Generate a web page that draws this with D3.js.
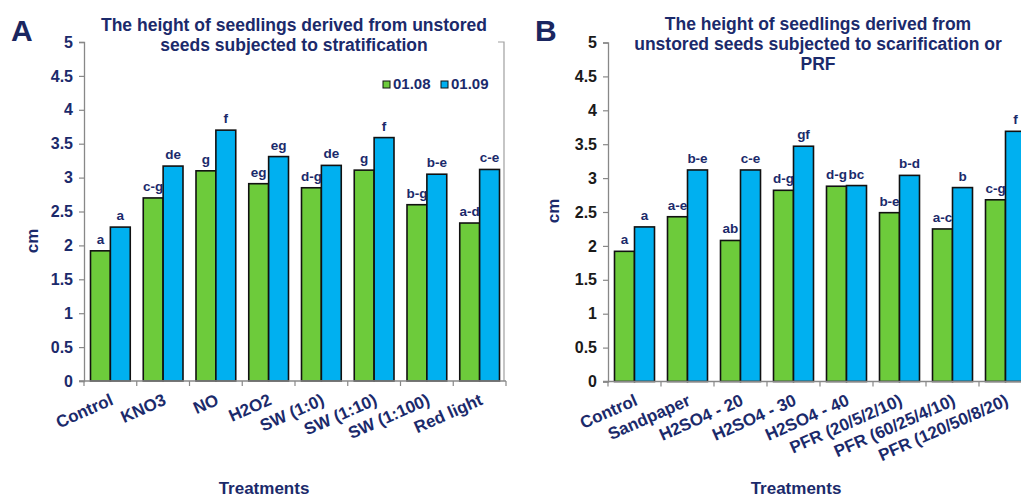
<!DOCTYPE html>
<html>
<head>
<meta charset="utf-8">
<script src="https://cdn.jsdelivr.net/npm/d3@7"></script>
<style>
  body { margin: 0; background: #fff; overflow: hidden; }
  text { font-family: Arial, "Liberation Sans", sans-serif; font-weight: bold; }
</style>
</head>
<body>
<svg id="drawing_region"></svg>
<script>
// ---- data ----
const series = ["01.08", "01.09"];
const yTicks = [0, 0.5, 1, 1.5, 2, 2.5, 3, 3.5, 4, 4.5, 5];

const catsA = ["Control", "KNO3", "NO", "H2O2", "SW (1:0)", "SW (1:10)", "SW (1:100)", "Red light"];
const valsA0108 = [1.92, 2.70, 3.10, 2.91, 2.85, 3.11, 2.60, 2.33];
const valsA0109 = [2.27, 3.17, 3.70, 3.31, 3.18, 3.59, 3.05, 3.12];
const lettersA0108 = ["a", "c-g", "g", "eg", "d-g", "g", "b-g", "a-d"];
const lettersA0109 = ["a", "de", "f", "eg", "de", "f", "b-e", "c-e"];

const catsB = ["Control", "Sandpaper", "H2SO4 - 20", "H2SO4 - 30", "H2SO4 - 40", "PFR (20/5/2/10)", "PFR (60/25/4/10)", "PFR (120/50/8/20)"];
const valsB0108 = [1.92, 2.43, 2.08, 2.82, 2.88, 2.49, 2.25, 2.68];
const valsB0109 = [2.28, 3.12, 3.12, 3.47, 2.89, 3.04, 2.86, 3.69];
const lettersB0108 = ["a", "a-e", "ab", "d-g", "d-g", "b-e", "a-c", "c-g"];
const lettersB0109 = ["a", "b-e", "c-e", "gf", "bc", "b-d", "b", "f"];

const titleA = ["The height of seedlings derived from unstored", "seeds subjected to stratification"];
const titleB = ["The height of seedlings derived from", "unstored seeds subjected to scarification  or", "PRF"];

const navy = "#1b2a6b";
const colors = ["#6dcb3b", "#00b0f0"];

const svg = d3.select("#drawing_region")
    .attr("width", 1021)
    .attr("height", 499);

function drawPanel(cfg) {
    const g = svg.append("g");

    const yscale = d3.scaleLinear()
        .domain([0, 5])
        .range([cfg.y0, cfg.y5]);

    const xscale = d3.scaleBand()
        .domain(cfg.cats)
        .range([cfg.left, cfg.left + cfg.band * cfg.cats.length]);

    const pad = 6.5;
    const xinner = d3.scaleBand()
        .domain(series)
        .range([pad, xscale.bandwidth() - pad]);

    // right frame edge (panel A only)
    if (cfg.frame) {
        g.append("path")
            .attr("d", `M${cfg.frame - 6},${cfg.y5} H${cfg.frame} V${cfg.y0}`)
            .attr("fill", "none")
            .attr("stroke", "#a0a0a0")
            .attr("stroke-width", 1.2);
    }

    // y axis
    const yaxis = d3.axisLeft(yscale)
        .tickValues(yTicks)
        .tickSize(5)
        .tickPadding(6)
        .tickFormat(d3.format(""));
    const yg = g.append("g")
        .attr("transform", `translate(${cfg.left},0)`)
        .call(yaxis);
    yg.select(".domain").attr("stroke", "#888").attr("stroke-width", 1.3);
    yg.selectAll(".tick line").attr("stroke", "#888").attr("stroke-width", 1.2);
    yg.selectAll(".tick text")
        .attr("font-size", 16)
        .attr("fill", cfg.tickColor);

    // bars
    const rows = cfg.cats.map((c, i) => ({
        cat: c,
        vals: [cfg.v1[i], cfg.v2[i]],
        lets: [cfg.l1[i], cfg.l2[i]]
    }));

    const groups = g.selectAll(".grp")
        .data(rows)
        .enter()
        .append("g")
        .attr("transform", d => `translate(${xscale(d.cat)},0)`);

    groups.selectAll("rect")
        .data(d => d.vals.map((v, k) => ({ s: series[k], v: v })))
        .enter()
        .append("rect")
        .attr("x", d => xinner(d.s))
        .attr("width", xinner.bandwidth())
        .attr("y", d => yscale(d.v))
        .attr("height", d => yscale(0) - yscale(d.v))
        .attr("fill", (d, k) => colors[k])
        .attr("stroke", "#111")
        .attr("stroke-width", 1.6);

    groups.selectAll(".lab")
        .data(d => d.vals.map((v, k) => ({ s: series[k], v: v, t: d.lets[k] })))
        .enter()
        .append("text")
        .attr("x", d => xinner(d.s) + xinner.bandwidth() / 2)
        .attr("y", d => yscale(d.v) - 7)
        .attr("text-anchor", "middle")
        .attr("font-size", 13.5)
        .attr("fill", navy)
        .text(d => d.t);

    // x axis
    const xright = cfg.left + cfg.band * cfg.cats.length;
    const bounds = d3.range(cfg.cats.length + 1).map(i => cfg.left + i * cfg.band);
    g.append("line")
        .attr("x1", cfg.left - 5).attr("x2", xright)
        .attr("y1", cfg.y0).attr("y2", cfg.y0)
        .attr("stroke", "#888").attr("stroke-width", 1.3);
    g.selectAll(".xt")
        .data(bounds)
        .enter()
        .append("line")
        .attr("x1", d => d).attr("x2", d => d)
        .attr("y1", cfg.y0).attr("y2", cfg.y0 + 5)
        .attr("stroke", "#888").attr("stroke-width", 1.2);

    g.selectAll(".xl")
        .data(cfg.cats)
        .enter()
        .append("text")
        .attr("transform", d => `translate(${xscale(d) + xscale.bandwidth() / 2 + 4},${cfg.y0 + 23}) rotate(-24)`)
        .attr("text-anchor", "end")
        .attr("font-size", 17)
        .attr("fill", navy)
        .text(d => d);

    // axis titles
    g.append("text")
        .attr("x", cfg.xTitleX)
        .attr("y", 494)
        .attr("text-anchor", "middle")
        .attr("font-size", 17)
        .attr("fill", navy)
        .text("Treatments");

    g.append("text")
        .attr("transform", `translate(${cfg.cmX},${cfg.cmY}) rotate(-90)`)
        .attr("text-anchor", "middle")
        .attr("font-size", 17)
        .attr("fill", navy)
        .text("cm");

    // chart title
    g.selectAll(".ttl")
        .data(cfg.title)
        .enter()
        .append("text")
        .attr("x", cfg.titleX)
        .attr("y", (d, i) => cfg.titleY + i * 20)
        .attr("text-anchor", "middle")
        .attr("font-size", 17.5)
        .attr("fill", navy)
        .text(d => d);

    // panel letter
    g.append("text")
        .attr("x", cfg.letterX)
        .attr("y", 41)
        .attr("font-size", 30)
        .attr("fill", "#1a2660")
        .text(cfg.letter);

    return g;
}

const gA = drawPanel({
    cats: catsA, v1: valsA0108, v2: valsA0109, l1: lettersA0108, l2: lettersA0109,
    left: 84, band: 52.75, y0: 381, y5: 42, frame: 504,
    tickColor: navy, title: titleA, titleX: 294, titleY: 31,
    xTitleX: 264, cmX: 38, cmY: 241, letter: "A", letterX: 11
});

const gB = drawPanel({
    cats: catsB, v1: valsB0108, v2: valsB0109, l1: lettersB0108, l2: lettersB0109,
    left: 608, band: 53, y0: 381.5, y5: 42.5, frame: null,
    tickColor: "#1a1a1a", title: titleB, titleX: 818, titleY: 30,
    xTitleX: 796, cmX: 559, cmY: 211, letter: "B", letterX: 535
});

// legend (panel A)
const legend = gA.append("g").attr("transform", "translate(383,89)");
series.forEach((s, i) => {
    legend.append("rect")
        .attr("x", i * 58).attr("y", -8)
        .attr("width", 7).attr("height", 7)
        .attr("fill", colors[i])
        .attr("stroke", "#111").attr("stroke-width", 1);
    legend.append("text")
        .attr("x", i * 58 + 10).attr("y", 0)
        .attr("font-size", 15)
        .attr("fill", navy)
        .text(s);
});
</script>
</body>
</html>
